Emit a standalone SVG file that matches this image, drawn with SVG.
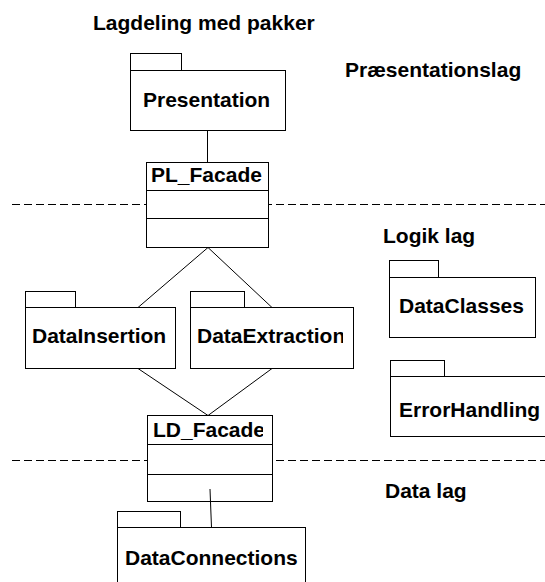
<svg xmlns="http://www.w3.org/2000/svg" width="545" height="582" viewBox="0 0 545 582">
  <style>
    .box { fill: #fff; stroke: #000; stroke-width: 1; }
    .line { stroke: #000; stroke-width: 1; fill: none; }
    .layer { stroke: #000; stroke-width: 1; stroke-dasharray: 8 4; fill: none; }
    .t { font-family: "Liberation Sans", Arial, sans-serif; font-weight: bold; font-size: 21px; fill: #000; }
  </style>
  <defs>
    <clipPath id="clipPL"><rect x="146" y="162" width="116" height="29"/></clipPath>
    <clipPath id="clipDE"><rect x="190" y="307" width="153" height="62"/></clipPath>
    <clipPath id="clipLD"><rect x="147" y="415" width="116" height="30"/></clipPath>
  </defs>

  <rect width="545" height="582" fill="#fff"/>

  <!-- headings and layer labels -->
  <g id="labels">
    <text class="t" x="93" y="30">Lagdeling med pakker</text>
    <text class="t" x="345" y="77">Præsentationslag</text>
    <text class="t" x="383" y="243">Logik lag</text>
    <text class="t" x="385" y="498">Data lag</text>
  </g>

  <!-- layer separators -->
  <g id="layers">
    <line class="layer" x1="12" y1="204.5" x2="545" y2="204.5"/>
    <line class="layer" x1="12" y1="460.5" x2="545" y2="460.5"/>
  </g>

  <g id="Presentation">
    <rect class="box" x="130.5" y="53.5" width="51" height="17"/>
    <rect class="box" x="130.5" y="70.5" width="155" height="60"/>
    <text class="t" x="143" y="107">Presentation</text>
  </g>

  <g id="PL_Facade">
    <rect class="box" x="146.5" y="162.5" width="122" height="85"/>
    <line class="line" x1="146.5" y1="190.5" x2="268.5" y2="190.5"/>
    <line class="line" x1="146.5" y1="218.5" x2="268.5" y2="218.5"/>
    <text class="t" x="151" y="182" clip-path="url(#clipPL)">PL_Facade</text>
  </g>

  <g id="DataInsertion">
    <rect class="box" x="25.5" y="291.5" width="50" height="16"/>
    <rect class="box" x="25.5" y="307.5" width="150" height="61"/>
    <text class="t" x="32" y="343">DataInsertion</text>
  </g>

  <g id="DataExtraction">
    <rect class="box" x="190.5" y="291.5" width="54" height="16"/>
    <rect class="box" x="190.5" y="307.5" width="163" height="61"/>
    <text class="t" x="197" y="343" clip-path="url(#clipDE)">DataExtraction</text>
  </g>

  <g id="DataClasses">
    <rect class="box" x="389.5" y="260.5" width="49" height="17"/>
    <rect class="box" x="389.5" y="277.5" width="146" height="60"/>
    <text class="t" x="399" y="313">DataClasses</text>
  </g>

  <g id="ErrorHandling">
    <rect class="box" x="390.5" y="360.5" width="54" height="16"/>
    <rect class="box" x="390.5" y="376.5" width="160" height="60"/>
    <text class="t" x="399" y="417">ErrorHandling</text>
  </g>

  <g id="LD_Facade">
    <rect class="box" x="147.5" y="415.5" width="125" height="86"/>
    <line class="line" x1="147.5" y1="444.5" x2="272.5" y2="444.5"/>
    <line class="line" x1="147.5" y1="474.5" x2="272.5" y2="474.5"/>
    <text class="t" x="153" y="437" clip-path="url(#clipLD)">LD_Facade</text>
  </g>

  <g id="DataConnections">
    <rect class="box" x="117.5" y="511.5" width="63" height="16"/>
    <rect class="box" x="117.5" y="527.5" width="188" height="60"/>
    <text class="t" x="125" y="565">DataConnections</text>
  </g>

  <!-- dependencies between packages and facades -->
  <g id="connectors">
    <line class="line" x1="207.5" y1="130.5" x2="207.5" y2="162.5"/>
    <line class="line" x1="208" y1="247.5" x2="138" y2="307.5"/>
    <line class="line" x1="208" y1="247.5" x2="272" y2="307.5"/>
    <line class="line" x1="138" y1="368.5" x2="208" y2="415.5"/>
    <line class="line" x1="272" y1="368.5" x2="208" y2="415.5"/>
    <line class="line" x1="210" y1="489" x2="211.5" y2="527.5"/>
  </g>
</svg>
